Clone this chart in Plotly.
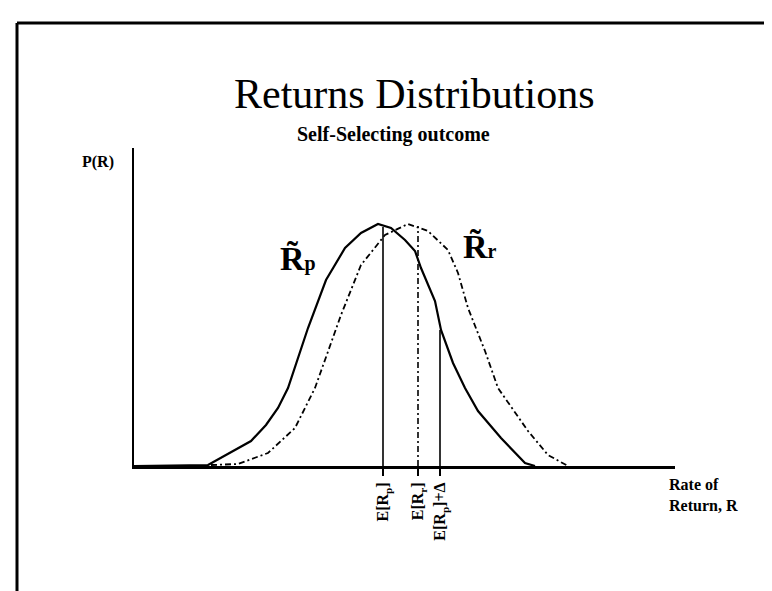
import plotly.graph_objects as go

# ---- data (x = rate of return, y = probability density, arbitrary units)
rp_x = [0.0, 7.4, 11.7, 13.2, 14.4, 15.4, 17.4, 19.2, 21.1, 22.7, 24.4, 25.7, 27.1, 28.1, 28.7, 30.1, 30.7, 31.9, 33.1, 34.4, 36.7, 39.1, 40.1]
rp_y = [0.0, 0.1, 2.5, 4.1, 5.8, 7.8, 13.8, 18.6, 21.8, 23.3, 24.2, 23.8, 22.6, 21.5, 19.8, 16.5, 13.6, 10.3, 7.8, 5.5, 2.8, 0.3, 0.0]

rr_x = [7.7, 10.4, 13.4, 16.1, 18.1, 19.4, 20.7, 22.7, 25.1, 27.4, 29.4, 31.4, 32.4, 33.4, 35.1, 36.4, 38.1, 39.4, 41.4, 43.4]
rr_y = [0.1, 0.2, 1.3, 3.8, 7.8, 11.5, 15.1, 20.1, 23.1, 24.2, 23.5, 21.6, 19.3, 15.8, 11.5, 7.8, 5.3, 3.5, 1.1, 0.0]

marker_x = [24.9, 28.4, 30.6]          # E[Rp], E[Rr], E[Rp]+delta
marker_top = [23.9, 24.0, 13.6]
marker_dash = ["solid", "6px,3px,2px,3px", "solid"]
tick_labels = ["<b>E[R<sub>p</sub>]</b>", "<b>E[R<sub>r</sub>]</b>", "<b>E[R<sub>p</sub>]+Δ</b>"]

X_RANGE = [0, 54.1]
Y_RANGE = [0, 31.8]

W, H = 772, 591
L, R, T, B = 126, 105, 140, 133
PW, PH = W - L - R, H - T - B


def px(x):
    return (x - L) / PW


def py(y):
    return (H - B - y) / PH


SERIF = "Liberation Serif, DejaVu Serif, serif"

fig = go.Figure()
fig.add_trace(go.Scatter(x=rp_x, y=rp_y, mode="lines",
                         line=dict(color="black", width=2.2), hoverinfo="skip"))
fig.add_trace(go.Scatter(x=rr_x, y=rr_y, mode="lines",
                         line=dict(color="black", width=1.8, dash="6px,3px,2px,3px"),
                         hoverinfo="skip"))
for mx, mt, md in zip(marker_x, marker_top, marker_dash):
    fig.add_trace(go.Scatter(x=[mx, mx], y=[0, mt], mode="lines",
                             line=dict(color="black", width=1.6, dash=md),
                             hoverinfo="skip"))

fig.update_layout(
    width=W, height=H,
    margin=dict(l=L, r=R, t=T, b=B),
    paper_bgcolor="white", plot_bgcolor="white",
    showlegend=False,
    font=dict(family=SERIF, color="black"),
    xaxis=dict(range=X_RANGE, showgrid=False, zeroline=False,
               showline=True, linecolor="black", linewidth=3,
               tickmode="array", tickvals=marker_x, ticktext=tick_labels,
               ticks="outside", ticklen=7, tickwidth=1.5, tickcolor="black",
               tickangle=-90, tickfont=dict(family=SERIF, size=16, color="black")),
    yaxis=dict(range=Y_RANGE, showgrid=False, zeroline=False,
               showline=True, linecolor="black", linewidth=2,
               showticklabels=False, ticks=""),
)

# frame lines of the scanned slide
fig.add_shape(type="line", xref="paper", yref="paper",
              x0=px(9), x1=px(772), y0=py(15), y1=py(15),
              line=dict(color="black", width=3))
fig.add_shape(type="line", xref="paper", yref="paper",
              x0=px(9), x1=px(9), y0=py(15), y1=py(591),
              line=dict(color="black", width=3))

ann = [
    dict(text="Returns Distributions", x=px(406), y=py(86), size=42),
    dict(text="<b>Self-Selecting outcome</b>", x=px(385), y=py(127), size=20),
    dict(text="<b>P(R)</b>", x=px(90), y=py(154), size=16),
    dict(text="<b>R\u0303<span style='font-size:20px'>p</span></b>", x=px(290), y=py(250), size=34),
    dict(text="<b>R\u0303<span style='font-size:20px'>r</span></b>", x=px(472), y=py(238), size=34),
]
for a in ann:
    fig.add_annotation(text=a["text"], x=a["x"], y=a["y"], xref="paper", yref="paper",
                       showarrow=False, xanchor="center", yanchor="middle",
                       font=dict(family=SERIF, size=a["size"], color="black"))

fig.add_annotation(text="<b>Rate of<br>Return, R</b>", x=px(659), y=py(487),
                   xref="paper", yref="paper", showarrow=False,
                   xanchor="left", yanchor="middle", align="left",
                   font=dict(family=SERIF, size=16, color="black"))

fig.write_html("out.html")
